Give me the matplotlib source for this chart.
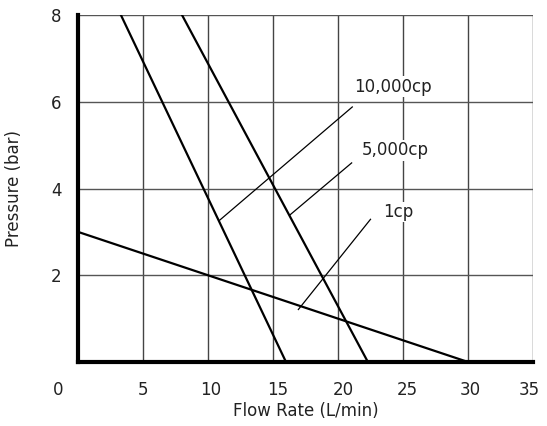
import matplotlib.pyplot as plt
import matplotlib.transforms as mtransforms

# flow rate (L/min) vs pressure (bar) end points of each curve
flow_1cp = [0, 30]
pres_1cp = [3, 0]
flow_5000 = [8.0, 22.3]
pres_5000 = [8, 0]
flow_10000 = [3.3, 16.0]
pres_10000 = [8, 0]

labels = ['10,000cp', '5,000cp', '1cp']
label_pos = [(24.2, 6.35), (24.4, 4.88), (24.6, 3.46)]
leader_start = [(10.9, 3.27), (16.3, 3.39), (16.95, 1.21)]
leader_end = [(21.1, 5.88), (21.05, 4.59), (22.5, 3.29)]

x_ticks = [0, 5, 10, 15, 20, 25, 30, 35]
y_ticks = [2, 4, 6, 8]

fig = plt.figure(figsize=(5.47, 4.26), dpi=100)
ax = fig.add_axes([78 / 547, 1 - 362 / 426, (533 - 78) / 547, (362 - 15) / 426])

ax.set_xlim(0, 35)
ax.set_ylim(0, 8)

# grid
for x in x_ticks[1:]:
    ax.axvline(x, color='#444444', lw=1, zorder=1)
for y in y_ticks:
    ax.axhline(y, color='#555555', lw=1, zorder=1)

ax.plot(flow_1cp, pres_1cp, color='black', lw=1.6, zorder=3)
ax.plot(flow_5000, pres_5000, color='black', lw=1.6, zorder=3)
ax.plot(flow_10000, pres_10000, color='black', lw=1.6, zorder=3)

for lab, (tx, ty), (x0, y0), (x1, y1) in zip(labels, label_pos, leader_start, leader_end):
    ax.plot([x0, x1], [y0, y1], color='black', lw=0.9, zorder=3)
    ax.text(tx, ty, lab, ha='center', va='center', fontsize=12, color='#222222', zorder=4,
            bbox=dict(facecolor='white', edgecolor='none', pad=1))

for s in ['top', 'right']:
    ax.spines[s].set_visible(False)
ax.spines['left'].set_linewidth(3)
ax.spines['bottom'].set_linewidth(3)

ax.set_xticks(x_ticks)
ax.set_xticklabels([str(t) for t in x_ticks], fontsize=12, color='#222222')
ax.set_yticks(y_ticks)
ax.set_yticklabels([str(t) for t in y_ticks], fontsize=12, color='#222222')
ax.tick_params(length=0, pad=14)
ax.tick_params(axis='y', pad=12)

# shift the x tick labels a bit like the original
shifts = [-20, 0, 3, 5, 5, 4, 2, -4]
for dx, lbl in zip(shifts, ax.get_xticklabels()):
    lbl.set_transform(lbl.get_transform() + mtransforms.ScaledTranslation(dx / 100, 0, fig.dpi_scale_trans))

ax.set_xlabel('Flow Rate (L/min)', fontsize=12, color='#222222', labelpad=2)
ax.set_ylabel('Pressure (bar)', fontsize=12, color='#222222', labelpad=20)

fig.savefig('out.png', dpi=100)
